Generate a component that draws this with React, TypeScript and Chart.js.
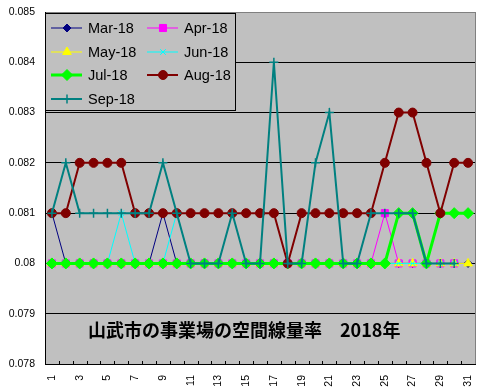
import React, { useEffect, useRef } from 'react';
import { Chart, registerables } from 'chart.js';
import { drawPoint } from 'chart.js/helpers';

Chart.register(...registerables);

const days = ['1','2','3','4','5','6','7','8','9','10','11','12','13','14','15','16','17','18','19','20','21','22','23','24','25','26','27','28','29','30','31'];

const mar18 = [0.081,0.08,0.08,0.08,0.08,0.08,0.08,0.08,0.081,0.08,0.08,0.08,0.08,0.08,0.08,0.08,0.08,0.08,0.08,0.08,0.08,0.08,0.08,0.08,0.08,0.08,0.08,0.08,0.08,0.08,0.08];
const apr18 = [0.08,0.08,0.08,0.08,0.08,0.08,0.08,0.08,0.08,0.08,0.08,0.08,0.08,0.08,0.08,0.08,0.08,0.08,0.08,0.08,0.08,0.08,0.08,0.08,0.081,0.08,0.08,0.08,0.08,0.08];
const may18 = [0.08,0.08,0.08,0.08,0.08,0.08,0.08,0.08,0.08,0.08,0.08,0.08,0.08,0.08,0.08,0.08,0.08,0.08,0.08,0.08,0.08,0.08,0.08,0.08,0.08,0.08,0.08,0.08,0.08,0.08,0.08];
const jun18 = [0.08,0.08,0.08,0.08,0.08,0.081,0.08,0.08,0.08,0.081,0.08,0.08,0.08,0.08,0.08,0.08,0.08,0.08,0.08,0.08,0.08,0.08,0.08,0.08,0.08,0.08,0.08,0.08,0.08,0.08];
const jul18 = [0.08,0.08,0.08,0.08,0.08,0.08,0.08,0.08,0.08,0.08,0.08,0.08,0.08,0.08,0.08,0.08,0.08,0.08,0.08,0.08,0.08,0.08,0.08,0.08,0.08,0.081,0.081,0.08,0.081,0.081,0.081];
const aug18 = [0.081,0.081,0.082,0.082,0.082,0.082,0.081,0.081,0.081,0.081,0.081,0.081,0.081,0.081,0.081,0.081,0.081,0.08,0.081,0.081,0.081,0.081,0.081,0.081,0.082,0.083,0.083,0.082,0.081,0.082,0.082];
const sep18 = [0.081,0.082,0.081,0.081,0.081,0.081,0.081,0.081,0.082,0.081,0.08,0.08,0.08,0.081,0.08,0.08,0.084,0.08,0.08,0.082,0.083,0.08,0.08,0.081,0.081,0.081,0.081,0.08,0.08,0.08];

const yTicks = [0.078, 0.079, 0.08, 0.081, 0.082, 0.083, 0.084, 0.085];
const titleText = '山武市の事業場の空間線量率　2018年';

type S = { label: string; data: number[]; color: string; style: any; radius: number; lw: number; bw: number };
const series: S[] = [
  { label: 'Mar-18', data: mar18, color: '#000080', style: 'rectRot', radius: 4, lw: 1, bw: 1 },
  { label: 'Apr-18', data: apr18, color: '#ff00ff', style: 'rect', radius: 5, lw: 1, bw: 1 },
  { label: 'May-18', data: may18, color: '#ffff00', style: 'triangle', radius: 5, lw: 1, bw: 1 },
  { label: 'Jun-18', data: jun18, color: '#00ffff', style: 'crossRot', radius: 4, lw: 1, bw: 1 },
  { label: 'Jul-18', data: jul18, color: '#00ff00', style: 'rectRot', radius: 5.5, lw: 3, bw: 1 },
  { label: 'Aug-18', data: aug18, color: '#800000', style: 'circle', radius: 4.5, lw: 2, bw: 1 },
  { label: 'Sep-18', data: sep18, color: '#008080', style: 'cross', radius: 4.5, lw: 2, bw: 1.5 },
];

const plotBg = {
  id: 'plotBg',
  beforeDraw(chart: any) {
    const { ctx, chartArea: a } = chart;
    ctx.save();
    ctx.fillStyle = '#c0c0c0';
    ctx.fillRect(a.left, a.top, a.right - a.left, a.bottom - a.top);
    ctx.restore();
  },
  afterDatasetsDraw(chart: any) {
    const { ctx, chartArea: a } = chart;
    ctx.save();
    // right border
    ctx.strokeStyle = '#808080';
    ctx.lineWidth = 1;
    ctx.beginPath();
    ctx.moveTo(Math.round(a.right) + 0.5, a.top);
    ctx.lineTo(Math.round(a.right) + 0.5, a.bottom);
    ctx.stroke();
    // inward tick marks on category boundaries
    const xs = chart.scales.x;
    const n = days.length;
    ctx.strokeStyle = '#000';
    for (let i = 1; i < n; i++) {
      const x = Math.round((xs.getPixelForValue(i - 1) + xs.getPixelForValue(i)) / 2) + 0.5;
      ctx.beginPath();
      ctx.moveTo(x, a.bottom - 3);
      ctx.lineTo(x, a.bottom);
      ctx.stroke();
    }
    // title inside plot
    ctx.fillStyle = '#000';
    ctx.font = 'bold 18px "Noto Sans CJK JP", sans-serif';
    ctx.textAlign = 'left';
    ctx.textBaseline = 'middle';
    ctx.fillText(titleText, 88, 330);
    // legend
    const lx = Math.round(a.left) + 0.5, ly = 13.5, lw = 190, lh = 97;
    ctx.fillStyle = '#c0c0c0';
    ctx.fillRect(lx, ly, lw, lh);
    ctx.strokeStyle = '#000';
    ctx.lineWidth = 1;
    ctx.strokeRect(lx, ly, lw, lh);
    const rows = [28, 52, 75, 99];
    const cols = [51, 147];
    ctx.font = '14.5px "Liberation Sans", Arial, sans-serif';
    series.forEach((s, i) => {
      const cx = cols[i % 2];
      const cy = rows[Math.floor(i / 2)];
      ctx.strokeStyle = s.color;
      ctx.lineWidth = s.lw;
      ctx.beginPath();
      ctx.moveTo(cx, cy);
      ctx.lineTo(cx + 31, cy);
      ctx.stroke();
      ctx.fillStyle = s.color;
      ctx.strokeStyle = s.color;
      ctx.lineWidth = s.bw;
      drawPoint(ctx, { pointStyle: s.style, radius: s.radius, rotation: 0, borderWidth: s.bw } as any, cx + 16, cy);
      ctx.fillStyle = '#000';
      ctx.textAlign = 'left';
      ctx.textBaseline = 'middle';
      ctx.fillText(s.label, cx + 37, cy + 1);
    });
    ctx.restore();
  },
};

export default function App() {
  const ref = useRef<HTMLCanvasElement>(null);
  useEffect(() => {
    if (!ref.current) return;
    const n = series.length;
    const chart = new Chart(ref.current, {
      type: 'line',
      data: {
        labels: days,
        datasets: series.map((s, i) => ({
          label: s.label,
          data: s.data,
          borderColor: s.color,
          backgroundColor: s.color,
          borderWidth: s.lw,
          pointStyle: s.style,
          pointRadius: s.radius,
          pointBorderWidth: s.bw,
          pointBackgroundColor: s.color,
          pointBorderColor: s.color,
          tension: 0,
          fill: false,
          order: n - i,
        })),
      },
      options: {
        animation: false,
        responsive: false,
        layout: { padding: { top: 12, right: 8, left: 0, bottom: 0 } },
        plugins: { legend: { display: false }, tooltip: { enabled: false } },
        scales: {
          x: {
            type: 'category',
            offset: true,
            grid: { display: false, drawTicks: false },
            border: { display: true, color: '#000', width: 1 },
            ticks: {
              autoSkip: false,
              minRotation: 90,
              maxRotation: 90,
              padding: 11,
              color: '#000',
              font: { family: '"Liberation Sans", Arial, sans-serif', size: 10.5 },
              callback: (_v: any, i: number) => (i % 2 === 0 ? days[i] : ''),
            },
            afterFit: (s: any) => { s.height = 28; s.paddingLeft = 0; s.paddingRight = 0; },
          },
          y: {
            min: yTicks[0],
            max: yTicks[yTicks.length - 1],
            afterBuildTicks: (s: any) => { s.ticks = yTicks.map((v) => ({ value: v })); },
            grid: {
              drawTicks: false,
              lineWidth: 1,
              color: (c: any) => (c.tick && Math.abs(c.tick.value - 0.085) < 1e-7 ? '#808080' : '#000'),
            },
            border: { display: true, color: '#000', width: 1 },
            ticks: {
              padding: 10,
              color: '#000',
              font: { family: '"Liberation Sans", Arial, sans-serif', size: 10.5 },
              callback: (v: any) => String(Number(Number(v).toFixed(3))),
            },
            afterFit: (s: any) => { s.width = 45; s.paddingTop = 0; s.paddingBottom = 0; },
          },
        },
      },
      plugins: [plotBg],
    });
    return () => chart.destroy();
  }, []);
  return (
    <div style={{ position: 'absolute', left: 0, top: 0, width: 483, height: 392, background: '#fff' }}>
      <canvas ref={ref} width={483} height={392} style={{ width: 483, height: 392, display: 'block' }} />
    </div>
  );
}
